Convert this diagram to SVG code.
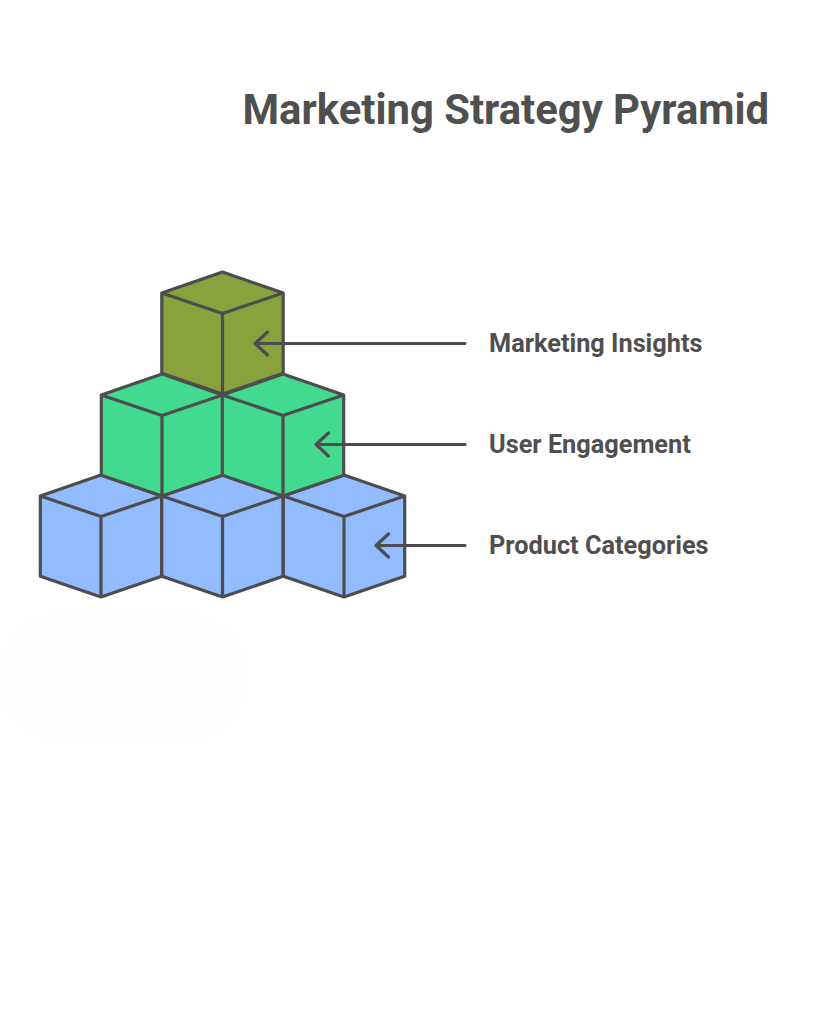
<svg xmlns="http://www.w3.org/2000/svg" width="819" height="1024" viewBox="0 0 819 1024">
<style>
.title{font:700 41.800px Roboto,"Liberation Sans",sans-serif;fill:#4f4f4f}
.label{font:700 25.300px Roboto,"Liberation Sans",sans-serif;fill:#4f4f4f}
.edge{fill:none;stroke:#4d4d4d;stroke-width:3.2;stroke-linecap:round;stroke-linejoin:round}
.olive{fill:#88a23e}.green{fill:#41da8e}.blue{fill:#93bbff}
</style>
<defs>
<g id="cube">
<path d="M-60.700 21 L0 0 L60.700 21 V101.300 L0 122 L-60.700 101.300 Z" stroke="#4d4d4d" stroke-width="3.2" stroke-linejoin="round"/>
<path d="M-60.700 21 L0 41.500 L60.700 21 M0 41.500 V122" fill="none" stroke="#4d4d4d" stroke-width="3.200" stroke-linejoin="round"/>
</g>
</defs>
<rect width="819" height="1024" fill="#fff"/>
<rect x="1" y="614" width="244" height="126" rx="63" fill="#fefefe"/>
<text class="title" x="242.500" y="124">Marketing Strategy Pyramid</text>
<g id="node-product-1"><use href="#cube" class="blue" x="101" y="475"/></g>
<g id="node-product-2"><use href="#cube" class="blue" x="222.500" y="475"/></g>
<g id="node-product-3"><use href="#cube" class="blue" x="344" y="475"/></g>
<g id="node-user-1"><use href="#cube" class="green" x="162" y="374"/></g>
<g id="node-user-2"><use href="#cube" class="green" x="283" y="374"/></g>
<g id="node-insights"><use href="#cube" class="olive" x="222.500" y="272"/></g>
<g id="connectors">
<path class="edge" d="M465 343.500H255M267.500 332 L255 343.500 L267.500 355"/>
<path class="edge" d="M465 444.500H316M328.500 433 L316 444.500 L328.500 456"/>
<path class="edge" d="M465 545.500H376M388.500 534 L376 545.500 L388.500 557"/>
</g>
<g id="label-insights"><text class="label" x="489" y="352">Marketing Insights</text></g>
<g id="label-user"><text class="label" x="489" y="453">User Engagement</text></g>
<g id="label-product"><text class="label" x="489" y="554">Product Categories</text></g>
</svg>
